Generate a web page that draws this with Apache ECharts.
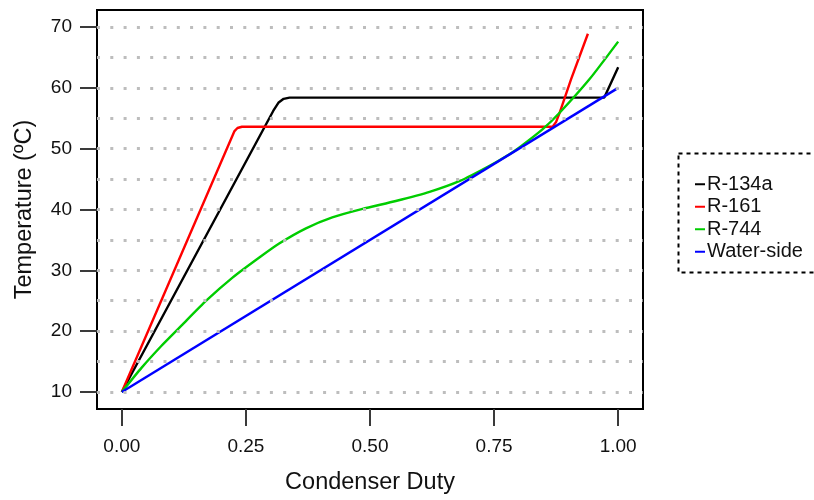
<!DOCTYPE html>
<html>
<head>
<meta charset="utf-8">
<script src="https://cdn.jsdelivr.net/npm/echarts@6/dist/echarts.min.js"></script>
<style>
  html, body { margin: 0; padding: 0; background: #fff; }
  #chart { width: 814px; height: 500px; }
</style>
</head>
<body>
<div id="chart"></div>
<script>
  // values
  const r134aDuty = [0, 0.305, 0.316, 0.326, 0.338, 0.972, 1.0];
  const r134aTemp = [10, 56.2, 57.6, 58.2, 58.4, 58.4, 63.4];

  const r161Duty = [0, 0.227, 0.233, 0.242, 0.868, 0.875, 0.882, 0.905, 0.939];
  const r161Temp = [10, 52.9, 53.4, 53.6, 53.6, 54.4, 55.9, 61.4, 68.9];

  const r744Duty = [0, 0.04, 0.08, 0.12, 0.17, 0.223, 0.277, 0.317, 0.371, 0.424, 0.485, 0.552,
    0.62, 0.681, 0.741, 0.781, 0.801, 0.848, 0.882, 0.942, 1.0];
  const r744Temp = [10, 14.0, 17.6, 20.9, 25.0, 28.8, 32.1, 34.4, 36.9, 38.7, 40.1, 41.4,
    42.9, 44.7, 47.2, 49.1, 50.2, 53.2, 55.9, 61.4, 67.6];

  const waterDuty = [0, 1.0];
  const waterTemp = [10, 60];

  const xTicks = [0, 0.25, 0.5, 0.75, 1.0];
  const yTicks = [10, 20, 30, 40, 50, 60, 70];
  const gridValues = [10, 15, 20, 25, 30, 35, 40, 45, 50, 55, 60, 65, 70];

  const font = 'Liberation Sans, Arial, sans-serif';

  function pairs(xs, ys) {
    return xs.map((x, i) => [x, ys[i]]);
  }

  function lineSeries(name, color, xs, ys, smooth) {
    return {
      name: name,
      type: 'line',
      data: pairs(xs, ys),
      showSymbol: false,
      smooth: smooth || false,
      z: 3,
      lineStyle: { color: color, width: 2.4 },
      itemStyle: { color: color }
    };
  }

  const chart = echarts.init(document.getElementById('chart'));
  const option = {
    animation: false,
    backgroundColor: '#fff',
    textStyle: { fontFamily: font },
    grid: {
      left: 97, top: 10, right: 171, bottom: 89,
      show: true, borderColor: '#000', borderWidth: 2, backgroundColor: 'transparent'
    },
    xAxis: {
      type: 'value',
      min: -0.05,
      max: 1.05,
      name: 'Condenser Duty',
      nameLocation: 'middle',
      nameGap: 62,
      nameTextStyle: { fontSize: 23.5, color: '#111', fontFamily: font },
      axisLine: { show: false, onZero: false },
      splitLine: { show: false },
      axisTick: {
        show: true, length: 17, customValues: xTicks,
        lineStyle: { color: '#3a3a3a', width: 2 }
      },
      axisLabel: {
        customValues: xTicks, margin: 28, fontSize: 19, color: '#111', fontFamily: font,
        formatter: v => v.toFixed(2)
      }
    },
    yAxis: {
      type: 'value',
      min: 7.2,
      max: 72.8,
      name: 'Temperature (ºC)',
      nameLocation: 'middle',
      nameGap: 60,
      nameTextStyle: { fontSize: 23.5, color: '#111', fontFamily: font },
      axisLine: { show: false, onZero: false },
      splitLine: { show: false },
      axisTick: {
        show: true, length: 17, customValues: yTicks,
        lineStyle: { color: '#3a3a3a', width: 2 }
      },
      axisLabel: {
        customValues: yTicks, margin: 25, fontSize: 19, color: '#111', fontFamily: font
      }
    },
    legend: {
      left: 690,
      top: 169,
      orient: 'vertical',
      icon: 'rect',
      itemWidth: 10,
      itemHeight: 2,
      itemGap: 2,
      data: ['R-134a', 'R-161', 'R-744', 'Water-side'],
      textStyle: { fontSize: 20, lineHeight: 20.5, color: '#111', fontFamily: font, padding: [0, 0, 0, -3] }
    },
    graphic: [{
      type: 'rect',
      left: 676,
      top: 151,
      shape: { width: 160, height: 119 },
      style: { fill: 'none', stroke: '#000', lineWidth: 2, lineDash: [4, 4] },
      silent: true
    }],
    series: [
      {
        name: 'grid',
        type: 'line',
        data: [],
        z: 1,
        silent: true,
        markLine: {
          silent: true,
          symbol: 'none',
          label: { show: false },
          lineStyle: { color: '#bdbdbd', width: 3, type: [3, 10.3] },
          data: gridValues.map(v => ({ yAxis: v }))
        }
      },
      lineSeries('R-134a', '#000000', r134aDuty, r134aTemp),
      lineSeries('R-161', '#ff0000', r161Duty, r161Temp),
      lineSeries('R-744', '#00cd00', r744Duty, r744Temp, 0.2),
      lineSeries('Water-side', '#0000ff', waterDuty, waterTemp)
    ]
  };
  chart.setOption(option);
</script>
</body>
</html>
